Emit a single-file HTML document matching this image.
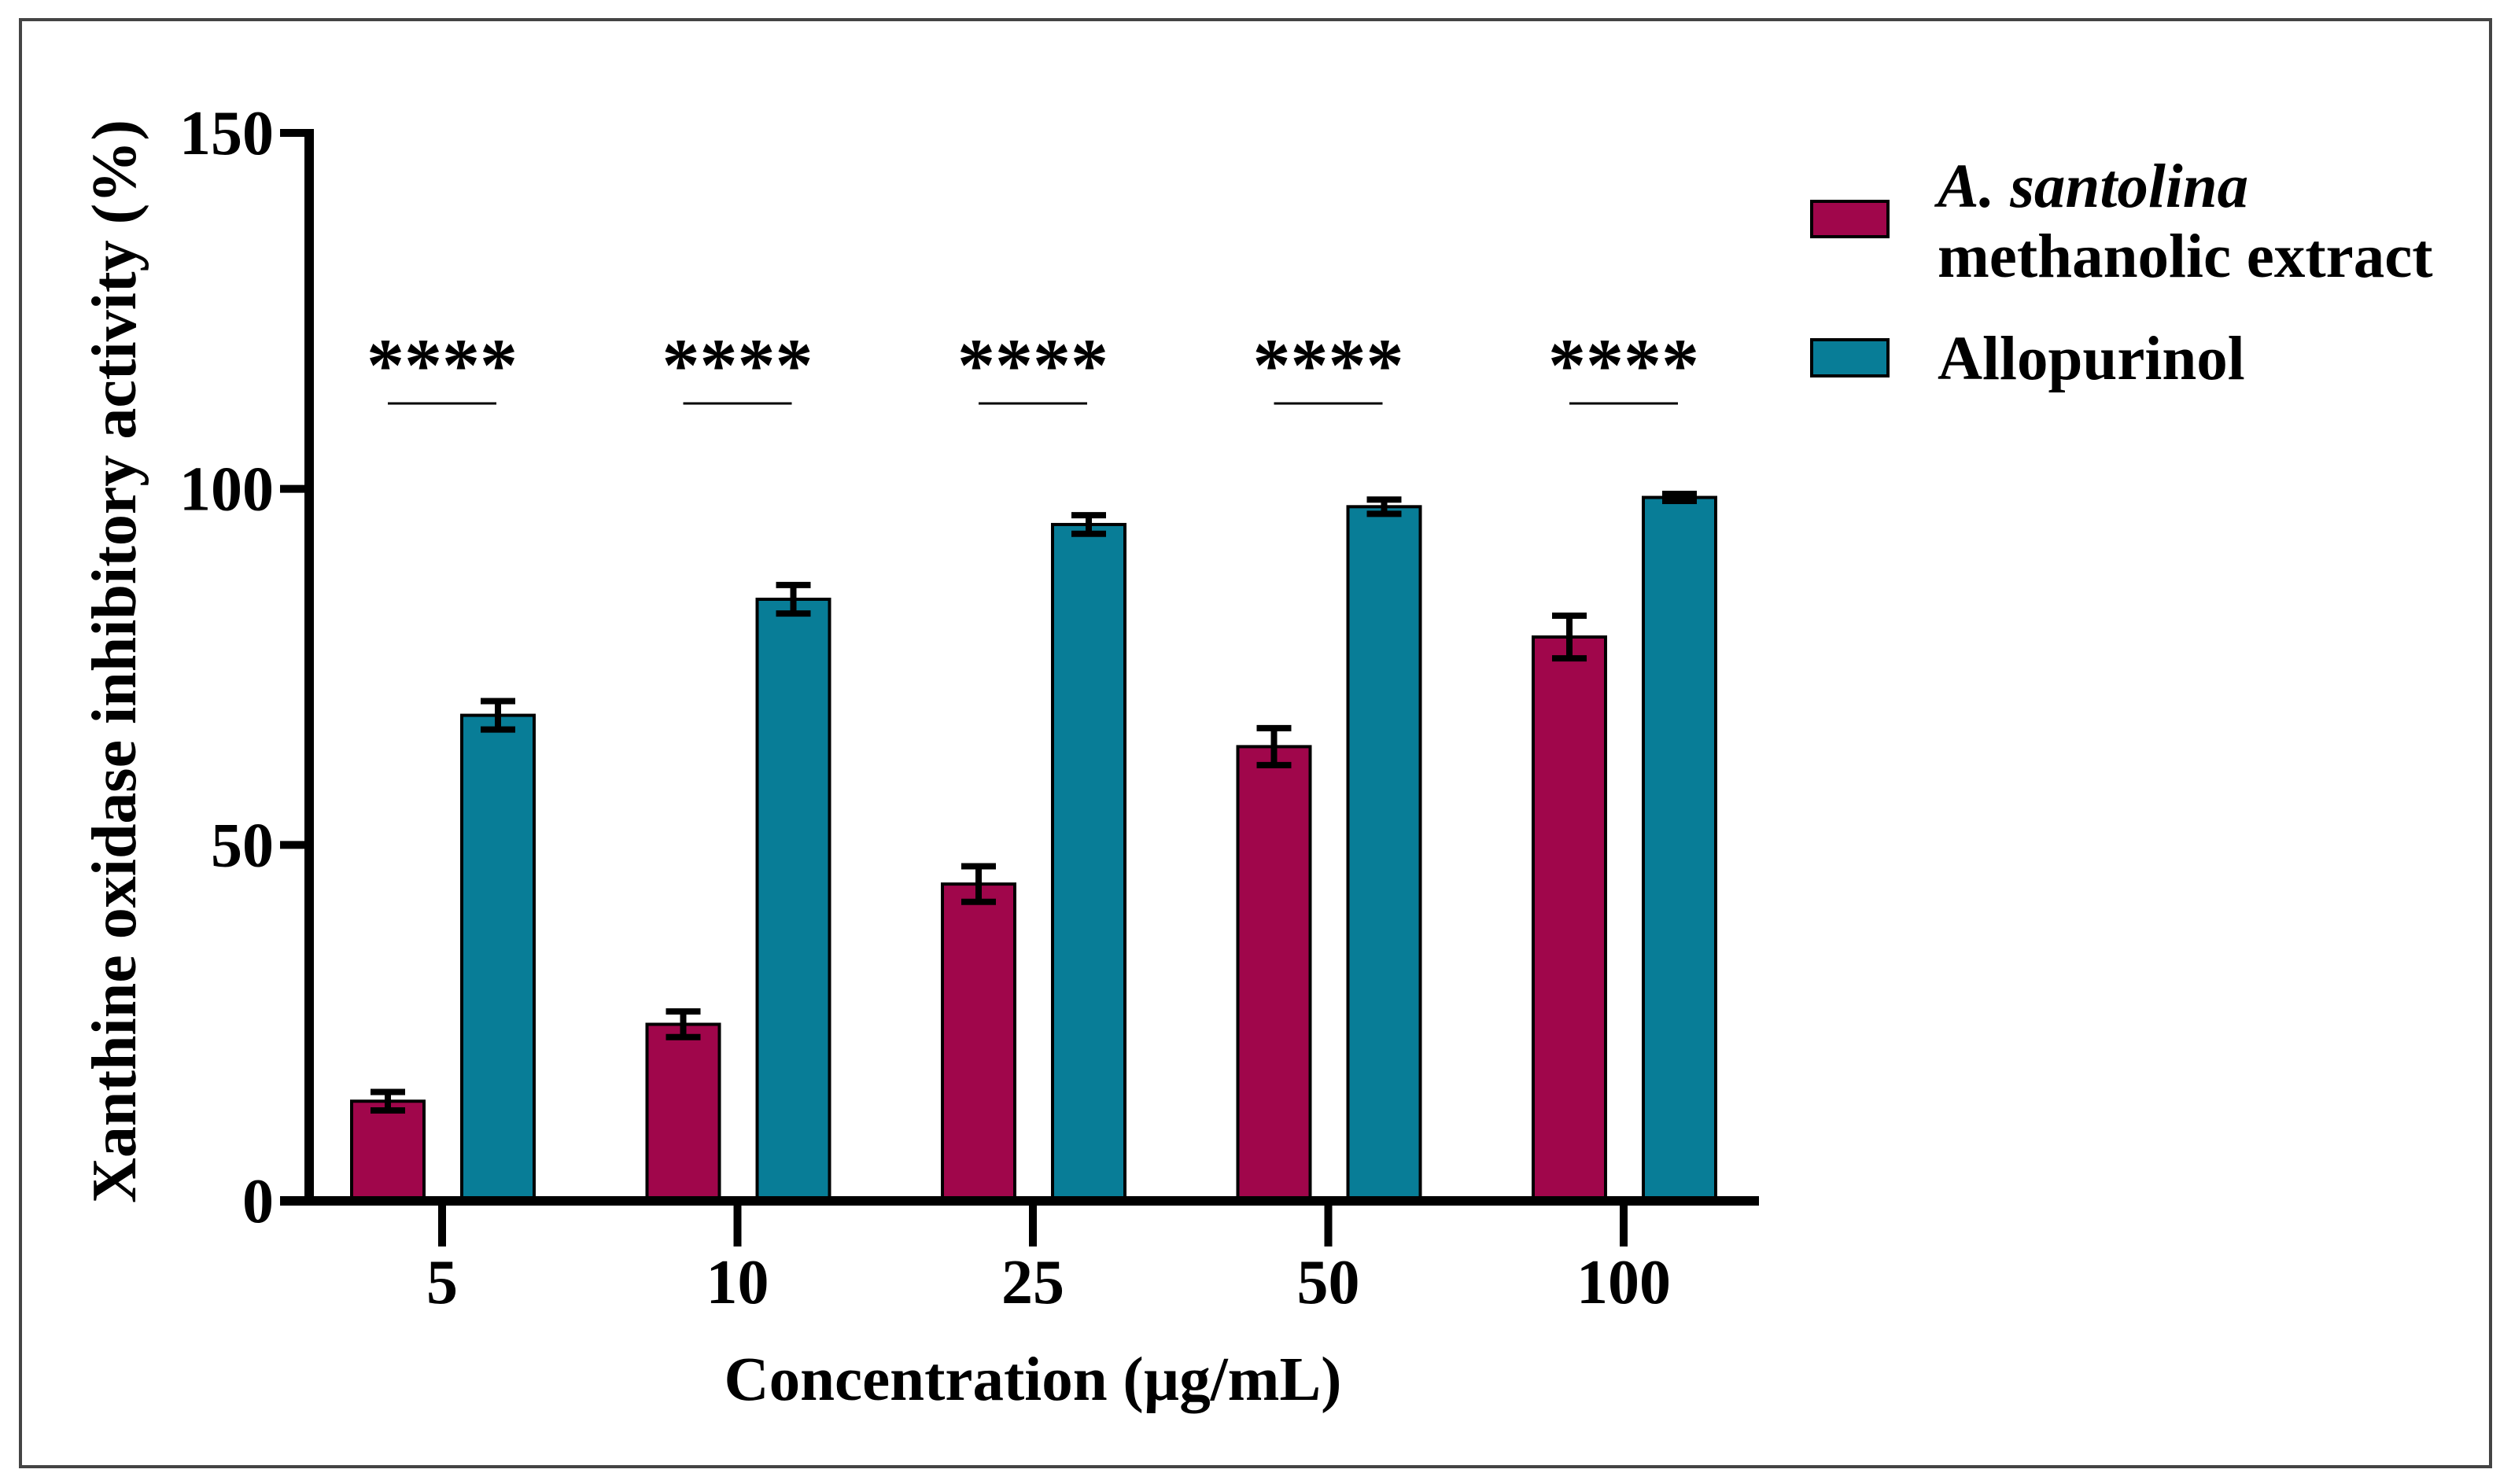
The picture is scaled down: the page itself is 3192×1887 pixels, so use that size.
<!DOCTYPE html>
<html><head><meta charset="utf-8"><style>
html,body{margin:0;padding:0;background:#fff}
svg{display:block}
text{font-family:"Liberation Serif",serif;font-weight:bold;fill:#000}
</style></head><body>
<svg id="chart" width="3192" height="1887" viewBox="0 0 3192 1887">
<rect x="26" y="25" width="3140" height="1840" fill="#fff" stroke="#444" stroke-width="4"/>
<g id="plot"></g>
<text x="0" y="0" transform="translate(172,841) rotate(-90)" text-anchor="middle" font-size="80">Xanthine oxidase inhibitory activity (%)</text>
<text x="1313" y="1780" text-anchor="middle" font-size="79">Concentration (µg/mL)</text>
<g>
<rect x="2303" y="256" width="97" height="45" fill="#a0064b" stroke="#000" stroke-width="4"/>
<text x="2463" y="263" font-size="79" font-style="italic">A. santolina</text>
<text x="2463" y="352" font-size="79">methanolic extract</text>
<rect x="2303" y="432" width="97" height="46" fill="#087d97" stroke="#000" stroke-width="4"/>
<text x="2463" y="482" font-size="79">Allopurinol</text>
</g>
</svg>
<script>
const categories = ["5","10","25","50","100"];
const extractValues = [14, 24.8, 44.5, 63.8, 79.2];
const extractErrors = [1.3, 1.8, 2.5, 2.6, 3.0];
const alloValues = [68.2, 84.5, 95, 97.5, 98.8];
const alloErrors = [2.0, 2.0, 1.3, 1.0, 0.5];
const yTicks = [0, 50, 100, 150];
const sigLabels = ["****","****","****","****","****"];

const NS = "http://www.w3.org/2000/svg";
const g = document.getElementById("plot");
const X0 = 393, XEND = 2236, Y0 = 1527, YTOP = 169, YMAX = 150;
const firstC = 562, step = 375.5;
function yScale(v){ return Y0 - (v / YMAX) * (Y0 - YTOP); }
function xScale(i){ return firstC + i * step; }
function el(tag, attrs){ const e = document.createElementNS(NS, tag); for (const k in attrs) e.setAttribute(k, attrs[k]); g.appendChild(e); return e; }

const bw = 92;
function drawBar(cx, v, err, color, name){
  const top = yScale(v);
  const r = el("rect", {x: cx - bw/2, y: top, width: bw, height: Y0 - top, fill: color, stroke: "#000", "stroke-width": 4});
  
  
  const y1 = yScale(v + err), y2 = yScale(v - err);
  const eb = el("path", {d: `M${cx},${y1}V${y2}M${cx-22},${y1}H${cx+22}M${cx-22},${y2}H${cx+22}`, stroke: "#000", "stroke-width": 8, fill: "none"});
  
  
}

categories.forEach((c, i) => {
  const cx = xScale(i);
  drawBar(cx - 69, extractValues[i], extractErrors[i], "#a0064b", "bar-extract-" + c);
  drawBar(cx + 71, alloValues[i], alloErrors[i], "#087d97", "bar-allopurinol-" + c);
  const t = el("path", {d: `M${cx},${Y0}V${Y0+58}`, stroke: "#000", "stroke-width": 10});
  
  
  const lbl = el("text", {x: cx, y: 1657, "text-anchor": "middle", "font-size": 80});
  lbl.textContent = c;
  
  
  const s = el("text", {x: cx, y: 497, "text-anchor": "middle", "font-size": 96});
  s.textContent = sigLabels[i];
  
  
  const sl = el("path", {d: `M${cx-69},513H${cx+69}`, stroke: "#000", "stroke-width": 3});
  
  
});

yTicks.forEach(v => {
  const y = yScale(v);
  const t = el("path", {d: `M356,${y}H${X0}`, stroke: "#000", "stroke-width": 10});
  
  
  const l = el("text", {x: 348, y: y + 27, "text-anchor": "end", "font-size": 80});
  l.textContent = v;
  
  
});

const ya = el("path", {d: `M${X0},${YTOP-5}V${Y0+6}`, stroke: "#000", "stroke-width": 12});


const xa = el("path", {d: `M356,${Y0}H${XEND}`, stroke: "#000", "stroke-width": 12});


</script>
</body></html>
